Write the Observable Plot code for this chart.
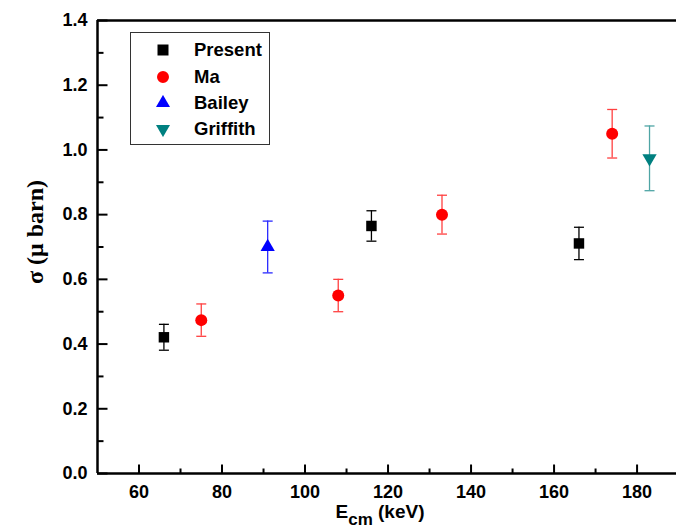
<!DOCTYPE html>
<html><head><meta charset="utf-8">
<script src="https://cdn.jsdelivr.net/npm/d3@7"></script>
<script src="https://cdn.jsdelivr.net/npm/@observablehq/plot@0.6"></script>
<style>
html,body{margin:0;padding:0;background:#fff;overflow:hidden}
#wrap{position:relative;width:676px;height:527px}
#legend{position:absolute;left:130px;top:32px;width:138px;height:111px;border:1px solid #333;background:#fff;
  font-family:"Liberation Sans",Arial,sans-serif;font-weight:bold;font-size:18.5px;color:#000}
#legend .sym{position:absolute;width:16px;height:16px}
#legend .lab{position:absolute;line-height:22px;white-space:nowrap}
</style></head><body><div id="wrap"><div id="legend"></div></div>
<script>
// ---- data ----
const seriesNames = ["Present", "Ma", "Bailey", "Griffith"];
const presentE = [66, 116, 166];
const presentSigma = [0.421, 0.765, 0.711];
const presentErr = [0.040, 0.047, 0.050];
const maE = [75, 108, 133, 174];
const maSigma = [0.474, 0.550, 0.800, 1.050];
const maErr = [0.050, 0.050, 0.060, 0.075];
const baileyE = [91];
const baileySigma = [0.700];
const baileyErr = [0.080];
const griffithE = [183];
const griffithSigma = [0.974];
const griffithErr = [0.100];
const xMajor = [60, 80, 100, 120, 140, 160, 180];
const xMinor = [70, 90, 110, 130, 150, 170];
const yMajor = [0.0, 0.2, 0.4, 0.6, 0.8, 1.0, 1.2, 1.4];
const yMinor = [0.1, 0.3, 0.5, 0.7, 0.9, 1.1, 1.3];
const xDomain = [50, 189.5];
const yDomain = [0, 1.4];
const xLabelText = "Ecm (keV)";
const yLabelText = "σ (μ barn)";

// ---- styles ----
const markerColors = ["#000000", "#ff0000", "#0000ff", "#008080"];
const errColors = ["#000000", "#ff4040", "#2a2aff", "#4fa5a5"];
const sqrt3 = Math.sqrt(3);
const triangleDown = {draw(ctx, size) {
  const y = -Math.sqrt(size / (sqrt3 * 3));
  ctx.moveTo(0, -2 * y); ctx.lineTo(-sqrt3 * y, y); ctx.lineTo(sqrt3 * y, y); ctx.closePath();
}};
const symbols = ["square", "circle", "triangle", triangleDown];
const radii = [5.9, 6, 5.3, 5.3];
const cap = {draw(ctx) { ctx.moveTo(-5, 0); ctx.lineTo(5, 0); }};
const tickRight = len => ({draw(ctx) { ctx.moveTo(0, 0); ctx.lineTo(len, 0); }});
const tickUp = len => ({draw(ctx) { ctx.moveTo(0, 0); ctx.lineTo(0, -len); }});

const raw = [[presentE, presentSigma, presentErr], [maE, maSigma, maErr],
             [baileyE, baileySigma, baileyErr], [griffithE, griffithSigma, griffithErr]];
const series = raw.map(([E, S, Er], i) => E.map((e, j) => ({e, s: S[j], lo: S[j] - Er[j], hi: S[j] + Er[j], i})));

const font = "'Liberation Sans', Arial, sans-serif";
const marks = [];
series.forEach((data, i) => {
  marks.push(Plot.ruleX(data, {x: "e", y1: "lo", y2: "hi", stroke: errColors[i], strokeWidth: 1.3}));
  marks.push(Plot.dot(data, {x: "e", y: "lo", symbol: cap, stroke: errColors[i], strokeWidth: 1.3, fill: "none"}));
  marks.push(Plot.dot(data, {x: "e", y: "hi", symbol: cap, stroke: errColors[i], strokeWidth: 1.3, fill: "none"}));
});
series.forEach((data, i) => {
  marks.push(Plot.dot(data, {x: "e", y: "s", symbol: symbols[i], r: radii[i], fill: markerColors[i], stroke: "none"}));
});

const chart = Plot.plot({
  width: 676, height: 527,
  marginLeft: 97, marginRight: 0, marginTop: 20, marginBottom: 54,
  x: {domain: xDomain},
  y: {domain: yDomain},
  style: {fontFamily: font, background: "#fff", overflow: "visible"},
  marks: [
    Plot.ruleX([xDomain[0]], {stroke: "#000", strokeWidth: 2.5}),
    Plot.ruleY(yDomain, {stroke: "#000", strokeWidth: 2.5}),
    Plot.dot(yMajor, {x: () => xDomain[0], y: d => d, symbol: tickRight(10), stroke: "#000", strokeWidth: 2, fill: "none"}),
    Plot.dot(yMinor, {x: () => xDomain[0], y: d => d, symbol: tickRight(6), stroke: "#000", strokeWidth: 2, fill: "none"}),
    Plot.dot(xMajor, {x: d => d, y: () => yDomain[0], symbol: tickUp(9), stroke: "#000", strokeWidth: 2, fill: "none"}),
    Plot.dot(xMinor, {x: d => d, y: () => yDomain[0], symbol: tickUp(5), stroke: "#000", strokeWidth: 2, fill: "none"}),
    Plot.axisY({ticks: yMajor, tickFormat: d3.format(".1f"), tickSize: 0, tickPadding: 10, label: null,
      fontSize: 18, fontWeight: "bold", fill: "#000"}),
    Plot.axisX({ticks: xMajor, tickFormat: d3.format("d"), tickSize: 0, tickPadding: 12, label: null,
      fontSize: 18, fontWeight: "bold", fill: "#000"}),
    ...marks,
    Plot.text([yLabelText], {text: d => d, frameAnchor: "left", textAnchor: "middle", rotate: -90, dx: -62, dy: -15,
      fontFamily: "'Liberation Serif', 'Times New Roman', serif", fontWeight: "bold", fontSize: 24, fill: "#000"}),
    Plot.text([xLabelText], {text: d => d, frameAnchor: "bottom", textAnchor: "middle", lineAnchor: "bottom", dx: -7, dy: 44,
      fontWeight: "bold", fontSize: 19, fill: "#000"})
  ]
});
document.getElementById("wrap").prepend(chart);

// subscript in x label
for (const t of chart.querySelectorAll("text")) {
  if (t.textContent === xLabelText) {
    t.textContent = "";
    const ns = "http://www.w3.org/2000/svg";
    const a = document.createElementNS(ns, "tspan"); a.textContent = "E";
    const b = document.createElementNS(ns, "tspan"); b.textContent = "cm"; b.setAttribute("dy", "7"); b.setAttribute("font-size", "17");
    const c = document.createElementNS(ns, "tspan"); c.textContent = " (keV)"; c.setAttribute("dy", "-7");
    t.append(a, b, c);
  }
}

// legend
const legend = document.getElementById("legend");
const rowCenters = [17, 44, 70, 96];
const legendSizes = [121, 113, 85, 85];
seriesNames.forEach((name, i) => {
  const sym = typeof symbols[i] === "string"
    ? {square: d3.symbolSquare, circle: d3.symbolCircle, triangle: d3.symbolTriangle}[symbols[i]]
    : symbols[i];
  const path = d3.symbol(sym, legendSizes[i])();
  const s = document.createElementNS("http://www.w3.org/2000/svg", "svg");
  s.setAttribute("class", "sym"); s.setAttribute("viewBox", "-8 -8 16 16");
  s.style.left = (32 - 8) + "px"; s.style.top = (rowCenters[i] - 8) + "px";
  s.innerHTML = `<path d="${path}" fill="${markerColors[i]}"/>`;
  legend.appendChild(s);
  const l = document.createElement("div");
  l.className = "lab"; l.textContent = name;
  l.style.left = "63px"; l.style.top = (rowCenters[i] - 11) + "px";
  legend.appendChild(l);
});
</script></body></html>
